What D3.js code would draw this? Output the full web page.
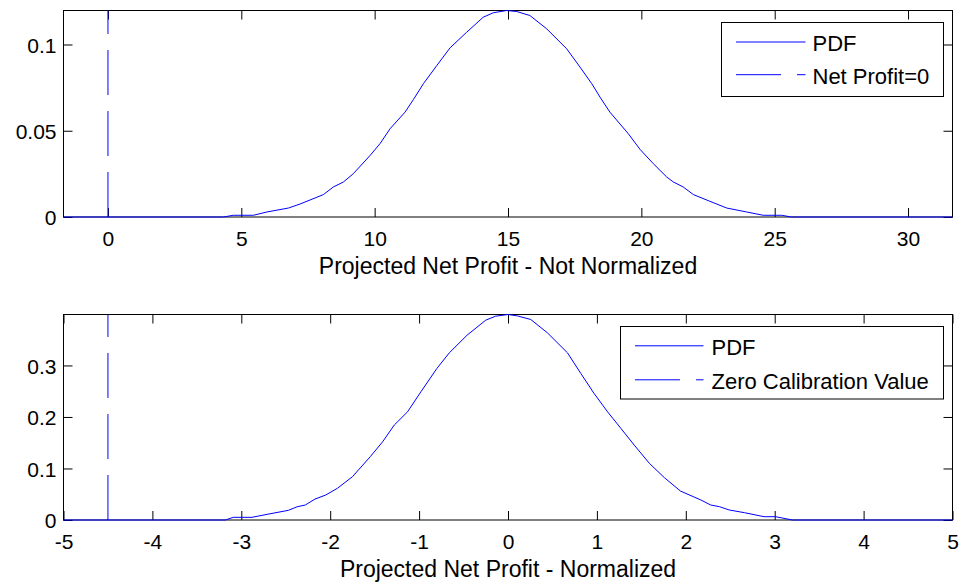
<!DOCTYPE html>
<html>
<head>
<meta charset="utf-8">
<script src="https://cdn.jsdelivr.net/npm/d3@7"></script>
<style>
  html, body { margin: 0; padding: 0; background: #fff; }
  svg { display: block; }
  text { font-family: "Liberation Sans", Arial, Helvetica, sans-serif; fill: #000; }
</style>
</head>
<body>
<svg id="fig" width="961" height="583"></svg>
<script>
// Upper panel: empirical PDF of projected net profit (raw units)
const rawX = [-1.667, 4.33, 4.70, 5.45, 5.96, 6.77, 7.20, 8.08, 8.45, 8.83,
  9.20, 9.83, 10.20, 10.58, 11.14, 11.45, 11.83, 12.33, 12.83, 13.45,
  14.07, 14.45, 14.95, 15.33, 15.82, 16.45, 17.20, 17.70, 18.14, 18.45,
  18.82, 19.51, 19.95, 20.45, 20.95, 21.20, 21.57, 21.95, 22.57, 23.20,
  23.95, 24.57, 25.26, 25.63, 31.667];
const rawPdf = [0, 0, 0.001, 0.001, 0.0029, 0.0052, 0.0075, 0.0130, 0.0174, 0.0203,
  0.0251, 0.0357, 0.0425, 0.0512, 0.0608, 0.0680, 0.0773, 0.0878, 0.0981, 0.1071,
  0.1158, 0.1184, 0.1197, 0.1191, 0.1168, 0.1091, 0.0975, 0.0869, 0.0773, 0.0695,
  0.0608, 0.0483, 0.0392, 0.0309, 0.0232, 0.0203, 0.0174, 0.0130, 0.0091, 0.0052,
  0.0029, 0.001, 0.001, 0, 0];
const rawZero = 0;
const rawXDomain = [-1.667, 31.667];
const rawYDomain = [0, 0.1197];
const rawXTicks = [0, 5, 10, 15, 20, 25, 30];
const rawXTickLabels = ["0", "5", "10", "15", "20", "25", "30"];
const rawYTicks = [0, 0.05, 0.1];
const rawYTickLabels = ["0", "0.05", "0.1"];

// Lower panel: the same PDF after normalisation
const normX = [-5, -3.18, -3.09, -2.88, -2.71, -2.47, -2.37, -2.28, -2.17, -2.05,
  -1.92, -1.75, -1.55, -1.41, -1.28, -1.13, -0.98, -0.80, -0.66, -0.46,
  -0.25, -0.14, 0, 0.106, 0.256, 0.444, 0.669, 0.819, 0.968, 1.12,
  1.27, 1.42, 1.59, 1.76, 1.94, 2.17, 2.28, 2.38, 2.49, 2.66,
  2.88, 3.01, 3.20, 5];
const normPdf = [0, 0, 0.0052, 0.0052, 0.011, 0.0188, 0.0258, 0.0291, 0.0407, 0.0485,
  0.0614, 0.0840, 0.1228, 0.1519, 0.1842, 0.2100, 0.2488, 0.2942, 0.3245, 0.3588,
  0.3879, 0.3956, 0.3989, 0.3962, 0.3892, 0.3632, 0.3245, 0.2845, 0.2457, 0.2100,
  0.1778, 0.1454, 0.1100, 0.0821, 0.0562, 0.0388, 0.0291, 0.0258, 0.0194, 0.0142,
  0.0064, 0.0064, 0, 0];
const normZero = -4.5;
const normXDomain = [-5, 5];
const normYDomain = [0, 0.3989];
const normXTicks = [-5, -4, -3, -2, -1, 0, 1, 2, 3, 4, 5];
const normXTickLabels = ["-5", "-4", "-3", "-2", "-1", "0", "1", "2", "3", "4", "5"];
const normYTicks = [0, 0.1, 0.2, 0.3];
const normYTickLabels = ["0", "0.1", "0.2", "0.3"];

const svg = d3.select("#fig");
const BLUE = "#0000ff";
const DASH = "45,16";
const TICK_FONT = "21px";
const TITLE_FONT = "23px";
const LEGEND_FONT = "22px";

function panel(cfg) {
  const { left, top, width, height } = cfg.box;
  const x = d3.scaleLinear().domain(cfg.xDomain).range([0, width]);
  const y = d3.scaleLinear().domain(cfg.yDomain).range([height, 0]);
  const g = svg.append("g").attr("transform", `translate(${left},${top})`);

  const fmtX = d => cfg.xLabels[cfg.xTicks.indexOf(d)];
  const fmtY = d => cfg.yLabels[cfg.yTicks.indexOf(d)];

  // axes box
  g.append("rect")
    .attr("width", width).attr("height", height)
    .attr("fill", "none").attr("stroke", "#000").attr("stroke-width", 1);

  // bottom axis (inward ticks, labelled)
  g.append("g").attr("transform", `translate(0,${height})`)
    .call(d3.axisBottom(x).tickValues(cfg.xTicks).tickFormat(fmtX)
      .tickSizeInner(-9).tickSizeOuter(0))
    .call(a => a.select(".domain").remove())
    .call(a => a.selectAll("text").attr("dy", null).attr("y", 28.8)
      .style("font-size", TICK_FONT).style("font-family", null));
  // top axis (inward ticks only)
  g.append("g")
    .call(d3.axisTop(x).tickValues(cfg.xTicks).tickFormat("")
      .tickSizeInner(-9).tickSizeOuter(0))
    .call(a => a.select(".domain").remove());
  // left axis
  g.append("g")
    .call(d3.axisLeft(y).tickValues(cfg.yTicks).tickFormat(fmtY)
      .tickSizeInner(-9).tickSizeOuter(0).tickPadding(7))
    .call(a => a.select(".domain").remove())
    .call(a => a.selectAll("text").attr("dy", "0.36em")
      .style("font-size", TICK_FONT).style("font-family", null));
  // right axis
  g.append("g").attr("transform", `translate(${width},0)`)
    .call(d3.axisRight(y).tickValues(cfg.yTicks).tickFormat("")
      .tickSizeInner(-9).tickSizeOuter(0))
    .call(a => a.select(".domain").remove());

  g.selectAll(".tick line").attr("stroke", "#000");

  // data curve (on top of the axes)
  const pts = cfg.xs.map((v, i) => [v, cfg.ys[i]]);
  g.append("path")
    .datum(pts)
    .attr("fill", "none")
    .attr("stroke", BLUE)
    .attr("stroke-width", 1)
    .attr("d", d3.line().x(d => x(d[0])).y(d => y(d[1])));

  // vertical reference line (drawn bottom-up so the dash phase starts at y = 0)
  g.append("line")
    .attr("x1", x(cfg.zero)).attr("x2", x(cfg.zero))
    .attr("y1", y(cfg.yDomain[0])).attr("y2", y(cfg.yDomain[1]))
    .attr("stroke", BLUE).attr("stroke-width", 1)
    .attr("stroke-dasharray", DASH);

  // x-axis title
  g.append("text")
    .attr("x", width / 2).attr("y", height + 56.6)
    .attr("text-anchor", "middle")
    .style("font-size", TITLE_FONT)
    .text(cfg.xTitle);

  // legend
  const L = cfg.legend;
  const lg = g.append("g").attr("transform", `translate(${L.x},${L.y})`);
  lg.append("rect").attr("width", L.w).attr("height", L.h)
    .attr("fill", "#fff").attr("stroke", "#000").attr("stroke-width", 1);
  L.items.forEach((it, i) => {
    const cy = L.rowY[i];
    lg.append("line")
      .attr("x1", L.lineX0).attr("x2", L.lineX1).attr("y1", cy).attr("y2", cy)
      .attr("stroke", BLUE).attr("stroke-width", 1)
      .attr("stroke-dasharray", it.dash ? DASH : null);
    lg.append("text")
      .attr("x", L.textX).attr("y", cy + 9)
      .style("font-size", LEGEND_FONT)
      .text(it.label);
  });
}

panel({
  box: { left: 63.5, top: 10.5, width: 889, height: 206.5 },
  xDomain: rawXDomain, yDomain: rawYDomain,
  xs: rawX, ys: rawPdf, zero: rawZero,
  xTicks: rawXTicks, xLabels: rawXTickLabels,
  yTicks: rawYTicks, yLabels: rawYTickLabels,
  xTitle: "Projected Net Profit - Not Normalized",
  legend: { x: 658, y: 12, w: 222, h: 74, rowY: [19.5, 52.2], lineX0: 14.5, lineX1: 84, textX: 91,
    items: [{ label: "PDF" }, { label: "Net Profit=0", dash: true }] }
});

panel({
  box: { left: 63.5, top: 314.5, width: 889, height: 205.5 },
  xDomain: normXDomain, yDomain: normYDomain,
  xs: normX, ys: normPdf, zero: normZero,
  xTicks: normXTicks, xLabels: normXTickLabels,
  yTicks: normYTicks, yLabels: normYTickLabels,
  xTitle: "Projected Net Profit - Normalized",
  legend: { x: 557, y: 12, w: 323, h: 72.5, rowY: [19.3, 53.3], lineX0: 14.5, lineX1: 83, textX: 91,
    items: [{ label: "PDF" }, { label: "Zero Calibration Value", dash: true }] }
});
</script>
</body>
</html>
